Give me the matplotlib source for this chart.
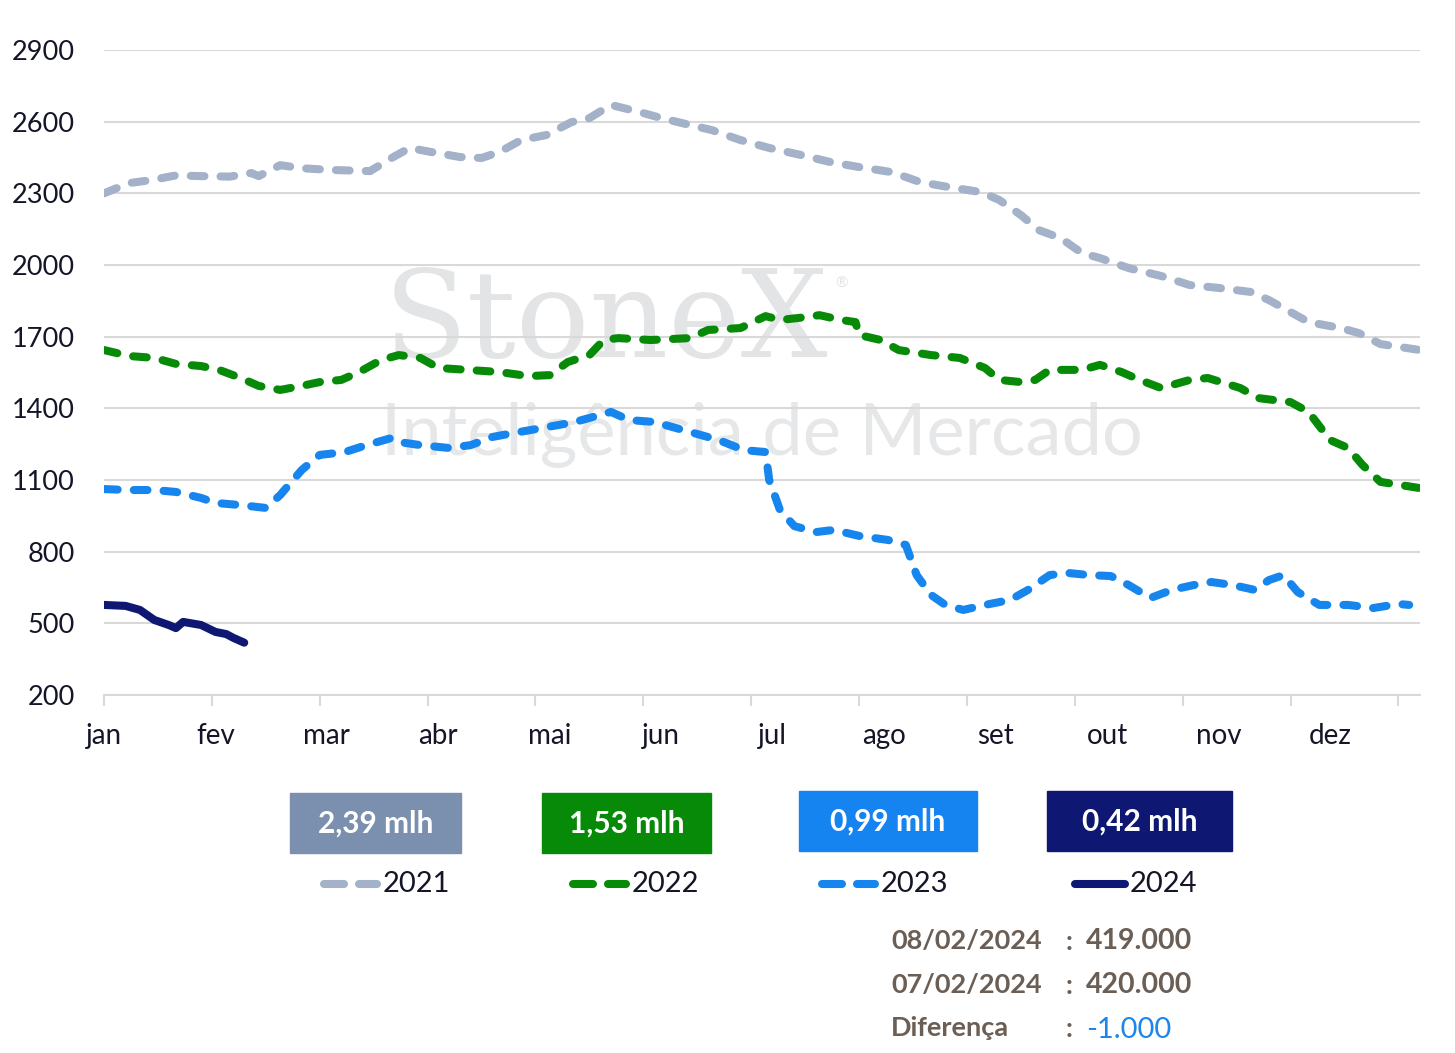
import numpy as np
import matplotlib.pyplot as plt
from matplotlib.patches import Rectangle
from matplotlib.lines import Line2D

W, H = 1455, 1053

# months (label text)
months = ["jan", "fev", "mar", "abr", "mai", "jun", "jul", "ago", "set", "out", "nov", "dez"]

# day of year, value (mil toneladas)
d2021 = [0, 7, 13, 20, 27, 35, 41, 43, 49, 55, 63, 74, 80, 85, 91, 99, 105, 110, 116, 123, 130, 135,
         141, 149, 155, 163, 169, 177, 185, 194, 202, 210, 219, 227, 235, 244, 249, 255, 260, 266,
         272, 277, 285, 294, 302, 310, 319, 324, 330, 335, 344, 349, 355, 366]
v2021 = [2300, 2343, 2355, 2375, 2372, 2370, 2385, 2372, 2418, 2405, 2398, 2393, 2448, 2490, 2473,
         2452, 2448, 2473, 2523, 2544, 2598, 2615, 2670, 2640, 2615, 2586, 2565, 2523, 2490, 2460,
         2431, 2410, 2389, 2347, 2326, 2305, 2272, 2209, 2146, 2113, 2050, 2029, 1987, 1954, 1916,
         1904, 1887, 1853, 1803, 1761, 1736, 1715, 1669, 1644]

d2022 = [0, 7, 14, 20, 27, 32, 38, 43, 49, 55, 60, 66, 71, 77, 82, 88, 93, 101, 110, 118, 124, 129,
         135, 139, 143, 152, 163, 168, 177, 184, 188, 193, 199, 205, 209, 210, 216, 221, 230, 238,
         245, 249, 255, 259, 263, 272, 277, 283, 288, 294, 302, 307, 316, 321, 330, 335, 341, 346,
         350, 355, 366]
v2022 = [1644, 1619, 1611, 1586, 1577, 1561, 1527, 1494, 1477, 1494, 1510, 1519, 1552, 1602, 1623,
         1611, 1569, 1561, 1552, 1535, 1539, 1594, 1623, 1686, 1694, 1686, 1694, 1728, 1736, 1786,
         1770, 1778, 1790, 1770, 1761, 1707, 1686, 1644, 1623, 1611, 1569, 1519, 1510, 1519, 1561,
         1561, 1582, 1552, 1519, 1485, 1519, 1527, 1485, 1443, 1426, 1385, 1267, 1234, 1163, 1092,
         1066]

d2023 = [0, 7, 14, 20, 27, 31, 38, 45, 49, 55, 60, 67, 73, 80, 82, 88, 96, 102, 108, 114, 122, 131,
         141, 146, 153, 163, 171, 178, 184, 185, 188, 192, 198, 203, 210, 218, 223, 226, 230, 234,
         239, 245, 252, 257, 263, 268, 274, 280, 285, 291, 297, 303, 308, 314, 320, 324, 328, 332,
         338, 346, 353, 360, 363]
v2023 = [1062, 1058, 1058, 1050, 1025, 1004, 995, 983, 1037, 1142, 1205, 1217, 1246, 1276, 1259,
         1246, 1234, 1246, 1280, 1297, 1318, 1343, 1385, 1351, 1343, 1301, 1267, 1225, 1217, 1100,
         974, 907, 882, 891, 866, 849, 828, 702, 619, 577, 556, 577, 598, 640, 702, 711, 702, 698,
         660, 606, 640, 660, 673, 660, 640, 681, 702, 631, 577, 577, 564, 581, 577]

d2024 = [0, 6, 10, 14, 18, 20, 22, 27, 31, 34, 36, 39]
v2024 = [577, 573, 556, 514, 493, 480, 506, 493, 464, 455, 439, 419]

years = ["2021", "2022", "2023", "2024"]
colors = ["#A3B1C9", "#078A07", "#1686EE", "#0E1872"]
box_colors = ["#7B8FAF", "#078A07", "#1584F0", "#0E1872"]
box_labels = ["2,39 mlh", "1,53 mlh", "0,99 mlh", "0,42 mlh"]

note_dates = ["08/02/2024", "07/02/2024", "Diferença"]
note_values = ["419.000", "420.000", "-1.000"]

FONT = "Lato"
DASH = (0, (1.7, 2.0))
TXT = "#141628"

fig = plt.figure(figsize=(W / 100, H / 100), dpi=100)
ax = fig.add_axes([104 / W, 1 - 695 / H, (1420 - 104) / W, (695 - 50) / H])
ax.patch.set_visible(False)

def px(x, y):
    return x / W, 1 - y / H

# watermark
fig.text(*px(606, 357), "StoneX", fontsize=88, family="DejaVu Serif", color="#E3E4E6",
         ha="center", va="baseline", zorder=-1)
fig.text(*px(842, 284), "®", fontsize=11, family=FONT, color="#E3E4E6", ha="center", va="center", zorder=-1)
fig.text(*px(762, 455), "Inteligência de Mercado", fontsize=52, family=FONT,
         color="#E6E7E8", ha="center", va="baseline", zorder=-1)

series = [(d2021, v2021), (d2022, v2022), (d2023, v2023), (d2024, v2024)]
for i, (d, v) in enumerate(series):
    if i == 3:
        ax.plot(d, v, color=colors[i], lw=5.8, solid_capstyle="round", solid_joinstyle="round", zorder=5)
    else:
        ax.plot(d, v, color=colors[i], lw=5.8, linestyle=DASH, dash_capstyle="round",
                dash_joinstyle="round", zorder=3 + i)

ax.set_xlim(0, 366)
ax.set_ylim(200, 2900)
ax.set_yticks(np.arange(200, 2901, 300))
ax.yaxis.grid(True, color="#D9D9D9", lw=1.5)
ax.tick_params(axis="y", length=0, pad=21, labelsize=19.5, labelcolor=TXT)
for lab in ax.get_yticklabels():
    lab.set_family(FONT)

ax.xaxis.remove_overlapping_locs = False
ax.set_xticks(np.arange(0, 361, 30))
ax.set_xticklabels([])
ax.set_xticks(np.arange(12) * 31, minor=True)
ax.set_xticklabels(months, minor=True)
ax.tick_params(axis="x", which="major", length=8, width=1.5, color="#D9D9D9")
ax.tick_params(axis="x", which="minor", length=0, pad=20, labelsize=20, labelcolor=TXT)
for lab in ax.get_xticklabels(minor=True):
    lab.set_family(FONT)

for s in ["top", "right", "left"]:
    ax.spines[s].set_visible(False)
ax.spines["bottom"].set_color("#D9D9D9")
ax.spines["bottom"].set_linewidth(1.5)

# value boxes
boxes = [(290, 793, 461, 853), (542, 793, 711, 853), (799, 791, 977, 851), (1047, 791, 1232, 851)]
for (x0, y0, x1, y1), c, t in zip(boxes, box_colors, box_labels):
    fig.patches.append(Rectangle(px(x0, y1), (x1 - x0) / W, (y1 - y0) / H, color=c,
                                 transform=fig.transFigure))
    fig.text(*px((x0 + x1) / 2, (y0 + y1) / 2 + 1), t, color="white", fontsize=21.5, fontweight="bold",
             family=FONT, ha="center", va="center")

# legend
leg_x = [320, 569, 818, 1067]
for i, x in enumerate(leg_x):
    if i == 3:
        segs = [(x + 8, x + 58)]
    else:
        segs = [(x + 4, x + 24), (x + 39, x + 57)]
    for a, b in segs:
        xa, ya = px(a, 884)
        xb, _ = px(b, 884)
        fig.lines.append(Line2D([xa, xb], [ya, ya], color=colors[i], lw=5.8, solid_capstyle="round",
                                transform=fig.transFigure))
    fig.text(*px(x + 63, 884), years[i], fontsize=21, family=FONT, color=TXT,
             ha="left", va="center")

# note
ys = [941, 985, 1028]
for k, (a, b, y) in enumerate(zip(note_dates, note_values, ys)):
    fig.text(*px(891, y), a, fontsize=19.5, fontweight="bold", family=FONT, color="#6B5E55",
             ha="left", va="center")
    fig.text(*px(1066, y + 1), ":", fontsize=19.5, fontweight="bold", family=FONT, color="#6B5E55",
             ha="left", va="center")
    if k < 2:
        fig.text(*px(1086, y), b, fontsize=20.5, fontweight="bold", family=FONT, color="#6B5E55",
                 ha="left", va="center")
    else:
        fig.text(*px(1086, y + 2), b, fontsize=21, family=FONT, color="#1B86EB",
                 ha="left", va="center")

fig.savefig("out.png", dpi=100, facecolor="white")
